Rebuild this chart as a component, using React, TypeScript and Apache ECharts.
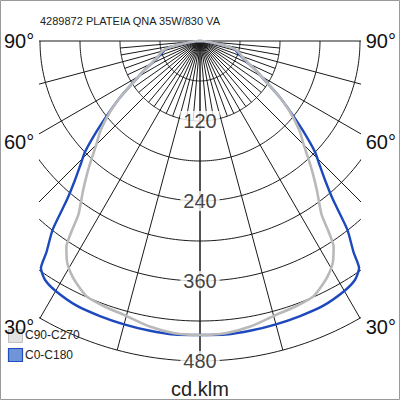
import React, { useEffect, useRef } from 'react';
import * as echarts from 'echarts';

const FONT = '"Liberation Sans", Arial, Helvetica, sans-serif';

const title = '4289872 PLATEIA QNA 35W/830 VA';
const unitLabel = 'cd.klm';
const ringValues = [60, 120, 180, 240, 300, 360, 420, 480];
const ringLabels = [120, 240, 360, 480];
const spokeMajor = [0, 15, 30, 45, 60, 75, 90];
const spokeMinor = [5, 10, 20, 25, 35, 40, 50, 55, 65, 70, 80, 85];
const minorSpokeLength = 120;
const angleLabels = ['90°', '60°', '30°'];

// C0-C180 (blue)
const gammaBlue = [0, 5, 10, 15, 20, 25, 30, 33, 35, 36, 38, 40, 42, 44, 46, 49, 52, 55, 58, 62, 66, 70, 73, 76, 78, 80, 83, 86, 90];
const intensityBlue = [441, 442, 441, 440, 439, 438, 433, 427, 416, 392, 359, 310, 280, 258, 240, 204, 172, 145, 119, 96, 76, 65, 59, 54, 50, 35, 18, 8, 0];

// C90-C270 (grey)
const gammaGray = [0, 5, 10, 15, 20, 24, 27, 29, 31, 33, 34, 35, 38, 40, 42, 45, 48, 52, 55, 58, 62, 66, 70, 73, 76, 78, 80, 83, 86, 90];
const intensityGray = [441, 440, 435, 427, 423, 419, 408, 399, 387, 368, 345, 318, 285, 265, 246, 220, 201, 170, 145, 119, 96, 78, 67, 62, 56, 48, 35, 18, 8, 0];

const legendNames = ['C90-C270', 'C0-C180'];

function toXY(g: number, I: number, side: number): [number, number] {
  const r = (g * Math.PI) / 180;
  return [side * I * Math.sin(r), -I * Math.cos(r)];
}

function curvePoints(gs: number[], vs: number[]) {
  const pts: [number, number][] = [];
  for (let i = gs.length - 1; i >= 0; i--) pts.push(toXY(gs[i], vs[i], -1));
  for (let i = 1; i < gs.length; i++) pts.push(toXY(gs[i], vs[i], 1));
  return pts;
}

const GRID_COLOR = '#1a1a1a';

export default function App() {
  const ref = useRef<HTMLDivElement>(null);
  useEffect(() => {
    if (!ref.current) return;
    const chart = echarts.init(ref.current, null, { renderer: 'svg' });
    const series: any[] = [];
    ringValues.forEach((v) => {
      const d: [number, number][] = [];
      for (let a = -90; a <= 90; a += 1) d.push(toXY(Math.abs(a), v, a < 0 ? -1 : 1));
      series.push({ type: 'line', data: d, symbol: 'none', silent: true, z: 1, clip: true,
        lineStyle: { color: GRID_COLOR, width: 1 } });
    });
    spokeMajor.forEach((g) => {
      [-1, 1].forEach((s) => {
        series.push({ type: 'line', data: [[0, 0], toXY(g, 480, s)], symbol: 'none', silent: true, z: 1, clip: true,
          lineStyle: { color: GRID_COLOR, width: 1 } });
      });
    });
    spokeMinor.forEach((g) => {
      [-1, 1].forEach((s) => {
        series.push({ type: 'line', data: [[0, 0], toXY(g, minorSpokeLength, s)], symbol: 'none', silent: true, z: 1, clip: true,
          lineStyle: { color: GRID_COLOR, width: 1 } });
      });
    });
    series.push({ name: legendNames[1], type: 'line', data: curvePoints(gammaBlue, intensityBlue), symbol: 'none',
      smooth: 0.2, z: 4, lineStyle: { color: '#1d49bd', width: 2.4 } });
    series.push({ name: legendNames[0], type: 'line', data: curvePoints(gammaGray, intensityGray), symbol: 'none',
      smooth: 0.2, z: 5, lineStyle: { color: '#b9b9b9', width: 2.6 } });
    series.push({ type: 'scatter', data: ringLabels.map((v) => [0, -v]), symbolSize: 0, z: 8, silent: true,
      label: { show: true, position: 'inside', formatter: (p: any) => String(-p.value[1]),
        fontFamily: FONT, fontSize: 20, color: '#111', backgroundColor: '#fff', padding: [0, 3] } });

    const graphics: any[] = [
      { type: 'rect', shape: { x: 0.5, y: 0.5, width: 399, height: 399 }, style: { fill: 'none', stroke: '#999', lineWidth: 1 }, z: 0 },
      { type: 'text', x: 40, y: 21, style: { text: title, font: `11px ${FONT}`, fill: '#222', verticalAlign: 'middle', align: 'left' }, z: 10 },
      { type: 'text', x: 200, y: 389, style: { text: unitLabel, font: `20px ${FONT}`, fill: '#222', verticalAlign: 'middle', align: 'center' }, z: 10 },
      { type: 'rect', shape: { x: 8.5, y: 329.5, width: 14, height: 13 }, style: { fill: '#e2e2e2', stroke: '#c0c0c0', lineWidth: 1 }, z: 10 },
      { type: 'text', x: 25, y: 335, style: { text: legendNames[0], font: `12px ${FONT}`, fill: '#222', verticalAlign: 'middle', align: 'left' }, z: 11 },
      { type: 'rect', shape: { x: 8.5, y: 348.5, width: 14, height: 13 }, style: { fill: '#7094d8', stroke: '#1f4fbf', lineWidth: 1.2 }, z: 10 },
      { type: 'text', x: 25, y: 355, style: { text: legendNames[1], font: `12px ${FONT}`, fill: '#222', verticalAlign: 'middle', align: 'left' }, z: 11 },
    ];
    const ys = [41, 142, 327];
    angleLabels.forEach((t, i) => {
      graphics.push({ type: 'text', x: 4, y: ys[i], style: { text: t, font: `20px ${FONT}`, fill: '#111', verticalAlign: 'middle', align: 'left' }, z: 12 });
      graphics.push({ type: 'text', x: 396, y: ys[i], style: { text: t, font: `20px ${FONT}`, fill: '#111', verticalAlign: 'middle', align: 'right' }, z: 12 });
    });

    chart.setOption({
      animation: false,
      backgroundColor: '#fff',
      grid: { left: 40, top: 37, width: 320, height: 328 },
      xAxis: { type: 'value', min: -240, max: 240, show: false },
      yAxis: { type: 'value', min: -486, max: 6, show: false },
      series,
      graphic: graphics,
    });
    return () => chart.dispose();
  }, []);
  return <div ref={ref} style={{ position: 'fixed', left: 0, top: 0, width: 400, height: 400 }} />;
}
